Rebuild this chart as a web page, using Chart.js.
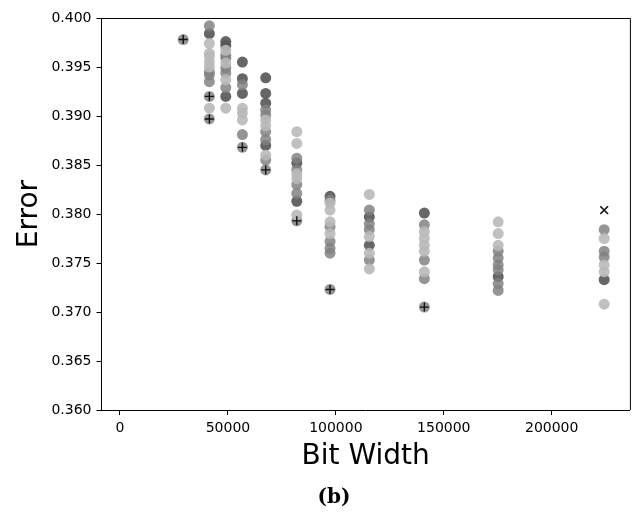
<!DOCTYPE html>
<html>
<head>
<meta charset="utf-8">
<script src="https://cdn.jsdelivr.net/npm/chart.js@4.4.1/dist/chart.umd.min.js"></script>
<style>
  html, body { margin: 0; padding: 0; background: #ffffff; }
  #wrap { width: 637px; height: 515px; position: relative; }
</style>
</head>
<body>
<div id="wrap"><canvas id="c" width="637" height="515"></canvas></div>
<script>
// ---- data ----
const bitWidths = [29300, 41400, 49000, 56700, 67500, 81900, 97300, 115500, 141000, 175200, 224300];

const darkErrors = [
  [],
  [0.3984],
  [0.3976, 0.3972, 0.3920],
  [0.3955, 0.3938, 0.3923],
  [0.3939, 0.3923, 0.3913, 0.3870],
  [0.3852, 0.3813],
  [0.3818],
  [0.3797, 0.3768],
  [0.3801],
  [0.3736],
  [0.3733]
];
const midErrors = [
  [0.3978],
  [0.3992, 0.3945, 0.3942, 0.3935, 0.3920, 0.3897],
  [0.3962, 0.3959, 0.3949, 0.3944, 0.3929],
  [0.3932, 0.3881, 0.3868],
  [0.3906, 0.3901, 0.3884, 0.3876, 0.3855, 0.3845],
  [0.3857, 0.3845, 0.3830, 0.3821, 0.3793],
  [0.3814, 0.3787, 0.3772, 0.3765, 0.3760, 0.3723],
  [0.3804, 0.3790, 0.3784, 0.3753],
  [0.3789, 0.3753, 0.3734, 0.3705],
  [0.3762, 0.3755, 0.3748, 0.3743, 0.3729, 0.3722],
  [0.3784, 0.3762, 0.3756]
];
const lightErrors = [
  [],
  [0.3974, 0.3964, 0.3961, 0.3955, 0.3950, 0.3908],
  [0.3967, 0.3954, 0.3937, 0.3908],
  [0.3908, 0.3903, 0.3896],
  [0.3896, 0.3890, 0.3860],
  [0.3884, 0.3872, 0.3841, 0.3836, 0.3799],
  [0.3811, 0.3804, 0.3792, 0.3780],
  [0.3820, 0.3777, 0.3760, 0.3744],
  [0.3782, 0.3775, 0.3768, 0.3762, 0.3741],
  [0.3792, 0.3780, 0.3768],
  [0.3775, 0.3748, 0.3741, 0.3708]
];

// "+" markers (best points) and single "x" marker
const bestWidths = [29300, 41400, 41400, 56700, 67500, 81900, 97300, 141000];
const bestErrors = [0.3978, 0.3920, 0.3897, 0.3868, 0.3845, 0.3793, 0.3723, 0.3705];
const crossWidths = [224300];
const crossErrors = [0.3804];

const xTickValues = [0, 50000, 100000, 150000, 200000];
const yTickValues = [0.360, 0.365, 0.370, 0.375, 0.380, 0.385, 0.390, 0.395, 0.400];

// ---- build ----
function columnsToPoints(cols) {
  const pts = [];
  cols.forEach((vals, i) => vals.forEach(v => pts.push({ x: bitWidths[i], y: v })));
  return pts;
}
function pairs(xs, ys) { return xs.map((x, i) => ({ x: x, y: ys[i] })); }

const FONT = "'DejaVu Sans', sans-serif";

const frame = {
  id: 'frame',
  afterDatasetsDraw(chart) {
    const { ctx, chartArea: a } = chart;
    ctx.save();
    ctx.strokeStyle = '#000';
    ctx.lineWidth = 1;
    ctx.beginPath();
    ctx.moveTo(a.left, a.top + 0.5);
    ctx.lineTo(a.right + 0.5, a.top + 0.5);
    ctx.lineTo(a.right + 0.5, a.bottom);
    ctx.stroke();
    ctx.restore();
  },
  afterDraw(chart) {
    const { ctx } = chart;
    ctx.save();
    ctx.fillStyle = '#000';
    ctx.font = "bold 20px 'DejaVu Serif', serif";
    ctx.textAlign = 'center';
    ctx.textBaseline = 'middle';
    ctx.fillText('(b)', 334, 498);
    ctx.restore();
  }
};

new Chart(document.getElementById('c'), {
  type: 'scatter',
  data: {
    datasets: [
      { label: 'best', data: pairs(bestWidths, bestErrors), pointStyle: 'cross', radius: 4.5,
        borderColor: '#111', borderWidth: 1.4, backgroundColor: '#111', order: 0 },
      { label: 'x', data: pairs(crossWidths, crossErrors), pointStyle: 'crossRot', radius: 5.5,
        borderColor: '#111', borderWidth: 1.6, backgroundColor: '#111', order: 0 },
      { label: 'light', data: columnsToPoints(lightErrors), pointStyle: 'circle', radius: 5.5,
        backgroundColor: 'rgba(185,185,185,0.9)', borderWidth: 0, order: 1 },
      { label: 'mid', data: columnsToPoints(midErrors), pointStyle: 'circle', radius: 5.5,
        backgroundColor: 'rgba(130,130,130,0.85)', borderWidth: 0, order: 2 },
      { label: 'dark', data: columnsToPoints(darkErrors), pointStyle: 'circle', radius: 5.5,
        backgroundColor: 'rgba(85,85,85,0.9)', borderWidth: 0, order: 3 }
    ]
  },
  options: {
    responsive: false,
    animation: false,
    events: [],
    layout: { padding: { top: 18, right: 7, left: 0, bottom: 0 } },
    plugins: { legend: { display: false }, tooltip: { enabled: false } },
    scales: {
      x: {
        type: 'linear',
        min: -8570,
        max: 236220,
        afterBuildTicks: s => { s.ticks = xTickValues.map(v => ({ value: v })); },
        afterFit: s => { s.height = 105; },
        grid: { display: true, drawOnChartArea: false, drawTicks: true, tickLength: 5, color: '#000', tickWidth: 1 },
        border: { display: true, color: '#000', width: 1 },
        ticks: { color: '#000', font: { family: FONT, size: 14 }, padding: 5, maxRotation: 0,
                 callback: v => String(v) },
        title: { display: true, text: 'Bit Width', color: '#000', font: { family: FONT, size: 28 },
                 padding: { top: 0, bottom: 41 } }
      },
      y: {
        type: 'linear',
        min: 0.360,
        max: 0.400,
        afterBuildTicks: s => { s.ticks = yTickValues.map(v => ({ value: v })); },
        afterFit: s => { s.width = 101.5; },
        grid: { display: true, drawOnChartArea: false, drawTicks: true, tickLength: 5, color: '#000', tickWidth: 1 },
        border: { display: true, color: '#000', width: 1 },
        ticks: { color: '#000', font: { family: FONT, size: 14 }, padding: 5,
                 callback: v => Number(v).toFixed(3) },
        title: { display: true, text: 'Error', color: '#000', font: { family: FONT, size: 28 },
                 padding: { top: 13, bottom: 0 } }
      }
    }
  },
  plugins: [frame]
});
</script>
</body>
</html>
